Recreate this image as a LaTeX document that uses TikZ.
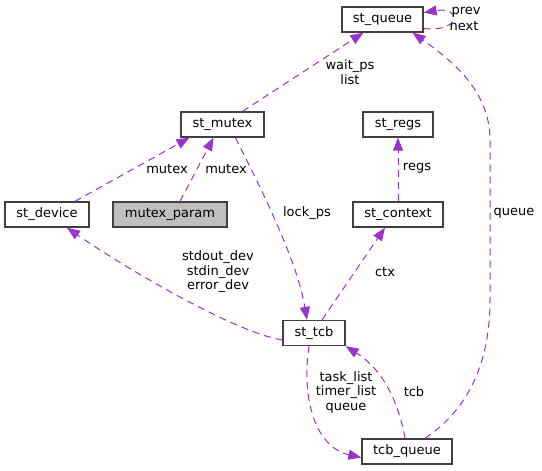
\documentclass[tikz,border=0pt]{standalone}
\usepackage{fontspec}
\setmainfont{DejaVu Sans}
\usetikzlibrary{arrows.meta}
\definecolor{edgec}{HTML}{9A32CD}
\definecolor{fillg}{HTML}{BFBFBF}
\definecolor{boxc}{HTML}{404040}
\tikzset{
  cls/.style={draw=boxc, line width=1.3pt, fill=white, inner sep=0pt, minimum height=25pt, font=\fontsize{13}{14}\selectfont},
  rel/.style={draw=edgec, line width=1pt, dash pattern=on 7pt off 5pt, -{Triangle[length=13pt,width=10pt,fill=edgec]}},
  lbl/.style={font=\fontsize{13}{14.5}\selectfont, align=center, inner sep=0pt}
}
\begin{document}
\begin{tikzpicture}[x=1pt,y=-1pt]
\useasboundingbox (0,0) rectangle (542,471);
\node[cls, minimum width=81pt] (queue) at (382.5,19.5) {st\_queue};
\node[cls, minimum width=83pt] (mutex) at (222.5,124.5) {st\_mutex};
\node[cls, minimum width=70pt] (regs) at (398,124.5) {st\_regs};
\node[cls, minimum width=84pt] (device) at (47,214.5) {st\_device};
\node[cls, minimum width=114pt, fill=fillg] (mparam) at (170,214.5) {mutex\_param};
\node[cls, minimum width=90pt] (context) at (398,214.5) {st\_context};
\node[cls, minimum width=62pt] (tcb) at (314,333) {st\_tcb};
\node[cls, minimum width=90pt] (tcbq) at (407,451.5) {tcb\_queue};

% self loop
\draw[rel] ([yshift=-9pt]queue.east) .. controls +(38,4) and +(38,-6) .. ([yshift=7pt]queue.east);
\node[lbl] (lprev) at (466,12) {prev};
\node[lbl] (lnext) at (464,26) {next};

% mutex -> queue
\draw[rel] ([xshift=20pt]mutex.north) -- ([xshift=-19pt]queue.south);
\node[lbl] (lwait) at (350,72) {wait\_ps\\list};

% device -> mutex
\draw[rel] ([xshift=28pt]device.north) -- ([xshift=-33pt]mutex.south);
\node[lbl] (lm1) at (167,169) {mutex};

% mutex_param -> mutex
\draw[rel] ([xshift=10pt]mparam.north) -- ([xshift=-9pt]mutex.south);
\node[lbl] (lm2) at (226,169) {mutex};

% mutex -> tcb
\draw[rel] ([xshift=13pt]mutex.south) .. controls +(25,50) and +(-10,-60) .. ([xshift=-7pt]tcb.north);
\node[lbl] (llock) at (307,213) {lock\_ps};

% context -> regs
\draw[rel] (context.north) -- (regs.south);
\node[lbl] (lregs) at (417,168) {regs};

% tcb -> context
\draw[rel] ([xshift=8pt]tcb.north) -- ([xshift=-13pt]context.south);
\node[lbl] (lctx) at (385,272) {ctx};

% tcb -> device
\draw[rel] ([yshift=-7pt]tcb.west) .. controls +(-50,-8) and +(50,35) .. ([xshift=20pt]device.south);
\node[lbl] (ldev) at (218,272) {stdout\_dev\\stdin\_dev\\error\_dev};

% tcb -> tcb_queue
\draw[rel] ([xshift=-5pt]tcb.south) .. controls +(-8,55) and +(-45,-10) .. ([yshift=-6pt]tcbq.west);
\node[lbl] (ltask) at (346,392) {task\_list\\timer\_list\\queue};

% tcb_queue -> tcb
\draw[rel] ([xshift=-2pt]tcbq.north) .. controls +(-7,-40) and +(35,22) .. (tcb.south east);
\node[lbl] (ltcb) at (414,392) {tcb};

% tcb_queue -> queue
\draw[rel] ([xshift=18pt]tcbq.north) .. controls +(45,-30) and +(0,60) .. (490,300) -- (490,140) .. controls +(0,-50) and +(38,27) .. ([xshift=30pt]queue.south);
\node[lbl] (lq) at (514,213) {queue};
\end{tikzpicture}
\end{document}
